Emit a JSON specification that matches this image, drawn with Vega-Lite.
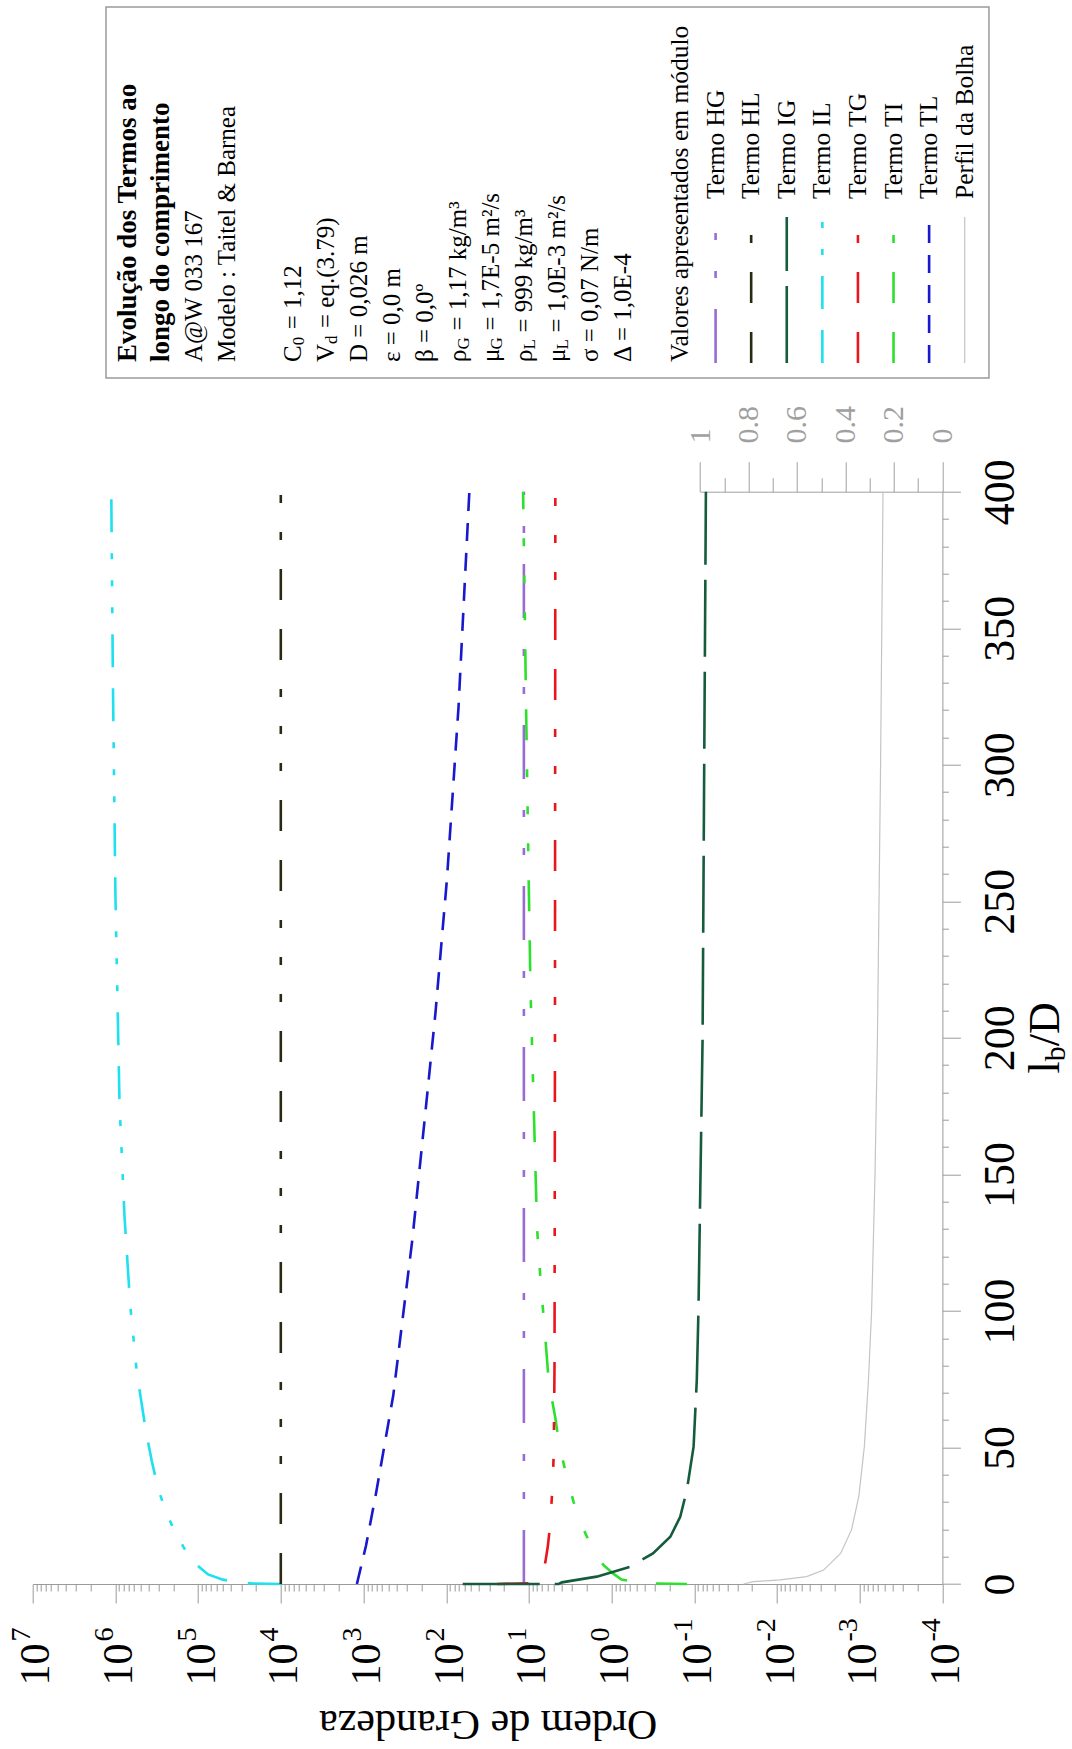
{
"$schema": "https://vega.github.io/schema/vega-lite/v6.json",
"width": 909.7, "height": 1092.3,
"autosize": {"type": "none"},
"padding": {"left": 32.7, "top": 491.7, "right": 129.6, "bottom": 165},
"background": "white",
"config": {"view": {"stroke": null},
 "axis": {"grid": false, "labelFlush": false, "labelOverlap": false, "labelBound": false, "domainColor": "#9a9a9a", "tickColor": "#9a9a9a", "labelFont": "Liberation Serif", "titleFont": "Liberation Serif", "titleFontWeight": "normal", "labelColor": "black", "titleColor": "black"},
 "text": {"font": "Liberation Serif"}},
"datasets": {
 "series": [
  {"s":"IL","k":0,"lb":0,"v":10000},{"s":"IL","k":1,"lb":0.2,"v":22387},{"s":"IL","k":2,"lb":0.6,"v":33113},{"s":"IL","k":3,"lb":1.6,"v":50119},{"s":"IL","k":4,"lb":3.5,"v":75858},{"s":"IL","k":5,"lb":6.6,"v":100000},{"s":"IL","k":6,"lb":11,"v":134896},{"s":"IL","k":7,"lb":18,"v":181970},{"s":"IL","k":8,"lb":25,"v":234423},{"s":"IL","k":9,"lb":34.5,"v":301995},{"s":"IL","k":10,"lb":45,"v":363078},{"s":"IL","k":11,"lb":55.8,"v":426580},{"s":"IL","k":12,"lb":77.2,"v":549541},{"s":"IL","k":13,"lb":101.8,"v":660693},{"s":"IL","k":14,"lb":134.6,"v":776247},{"s":"IL","k":15,"lb":175.7,"v":891251},{"s":"IL","k":16,"lb":252.9,"v":1000000},{"s":"IL","k":17,"lb":330,"v":1071519},{"s":"IL","k":18,"lb":400,"v":1122018},
  {"s":"HL","k":0,"lb":0,"v":10000},{"s":"HL","k":1,"lb":400,"v":10000},
  {"s":"HG","k":0,"lb":0,"v":11.5},{"s":"HG","k":1,"lb":400,"v":11.5},
  {"s":"TL","k":0,"lb":0,"v":1202},{"s":"TL","k":1,"lb":14,"v":933},{"s":"TL","k":2,"lb":33,"v":708},{"s":"TL","k":3,"lb":69,"v":437},{"s":"TL","k":4,"lb":126,"v":257},{"s":"TL","k":5,"lb":176,"v":174},{"s":"TL","k":6,"lb":209,"v":135},{"s":"TL","k":7,"lb":258,"v":98},{"s":"TL","k":8,"lb":321,"v":71},{"s":"TL","k":9,"lb":400,"v":52.5},
  {"s":"TI","k":0,"lb":0,"v":0.123},{"s":"TI","k":1,"lb":0.2,"v":0.355},{"s":"TI","k":2,"lb":0.85,"v":0.525},{"s":"TI","k":3,"lb":1.6,"v":0.759},{"s":"TI","k":4,"lb":3.8,"v":0.955},{"s":"TI","k":5,"lb":7,"v":1.259},{"s":"TI","k":6,"lb":12.4,"v":1.66},{"s":"TI","k":7,"lb":18,"v":2.04},{"s":"TI","k":8,"lb":23.4,"v":2.4},{"s":"TI","k":9,"lb":30,"v":2.88},{"s":"TI","k":10,"lb":41,"v":3.59},{"s":"TI","k":11,"lb":50.3,"v":4.27},{"s":"TI","k":12,"lb":60.8,"v":4.79},{"s":"TI","k":13,"lb":73.9,"v":5.75},{"s":"TI","k":14,"lb":93.6,"v":6.46},{"s":"TI","k":15,"lb":110,"v":7.19},{"s":"TI","k":16,"lb":129.7,"v":7.94},{"s":"TI","k":17,"lb":151,"v":8.32},{"s":"TI","k":18,"lb":183.9,"v":8.91},{"s":"TI","k":19,"lb":216.8,"v":9.55},{"s":"TI","k":20,"lb":252.9,"v":10.0},{"s":"TI","k":21,"lb":323,"v":10.84},{"s":"TI","k":22,"lb":400,"v":11.75},
  {"s":"TG","k":0,"lb":0,"v":24.0},{"s":"TG","k":1,"lb":0.3,"v":10.0},{"s":"TG","k":2,"lb":0.8,"v":8.5},{"s":"TG","k":3,"lb":1.6,"v":7.41},{"s":"TG","k":4,"lb":4,"v":6.76},{"s":"TG","k":5,"lb":8.2,"v":6.31},{"s":"TG","k":6,"lb":14,"v":5.89},{"s":"TG","k":7,"lb":21.3,"v":5.56},{"s":"TG","k":8,"lb":35,"v":5.19},{"s":"TG","k":9,"lb":47.6,"v":5.01},{"s":"TG","k":10,"lb":80,"v":4.9},{"s":"TG","k":11,"lb":200,"v":4.84},{"s":"TG","k":12,"lb":400,"v":4.79},
  {"s":"IG","k":0,"lb":0,"v":63.1},{"s":"IG","k":1,"lb":0,"v":4.37},{"s":"IG","k":2,"lb":0.6,"v":3.98},{"s":"IG","k":3,"lb":1.5,"v":2.63},{"s":"IG","k":4,"lb":2.7,"v":1.514},{"s":"IG","k":5,"lb":6.3,"v":0.603},{"s":"IG","k":6,"lb":8.2,"v":0.468},{"s":"IG","k":7,"lb":11.2,"v":0.316},{"s":"IG","k":8,"lb":17.3,"v":0.195},{"s":"IG","k":9,"lb":24.6,"v":0.148},{"s":"IG","k":10,"lb":34.4,"v":0.123},{"s":"IG","k":11,"lb":50.3,"v":0.102},{"s":"IG","k":12,"lb":74.7,"v":0.0933},{"s":"IG","k":13,"lb":100,"v":0.0891},{"s":"IG","k":14,"lb":200,"v":0.0794},{"s":"IG","k":15,"lb":300,"v":0.0759},{"s":"IG","k":16,"lb":400,"v":0.0724}
 ],
 "profile": [
  {"lb":0,"p":0.82},{"lb":0.85,"p":0.78},{"lb":1.5,"p":0.67},{"lb":2.7,"p":0.56},{"lb":5.1,"p":0.49},{"lb":11.2,"p":0.42},{"lb":19.8,"p":0.375},{"lb":32,"p":0.345},{"lb":50.3,"p":0.322},{"lb":74.7,"p":0.305},{"lb":100,"p":0.292},{"lb":150,"p":0.278},{"lb":200,"p":0.268},{"lb":300,"p":0.255},{"lb":400,"p":0.245}
 ],
 "legA": [
  {"line":0,"k":"t","a":"Evolução dos Termos ao"},
  {"line":1,"k":"t","a":"longo do comprimento"},
  {"line":2,"k":"n","a":"A@W 033 167"},
  {"line":3,"k":"n","a":"Modelo : Taitel & Barnea"},
  {"line":5,"k":"n","a":"C","s":"0","r":"= 1,12"},
  {"line":6,"k":"n","a":"V","s":"d","r":"= eq.(3.79)"},
  {"line":7,"k":"n","a":"D = 0,026 m"},
  {"line":8,"k":"n","a":"ε = 0,0 m"},
  {"line":9,"k":"n","a":"β = 0,0º"},
  {"line":10,"k":"n","a":"ρ","s":"G","r":"= 1,17 kg/m³"},
  {"line":11,"k":"n","a":"μ","s":"G","r":"= 1,7E-5 m²/s"},
  {"line":12,"k":"n","a":"ρ","s":"L","r":"= 999 kg/m³"},
  {"line":13,"k":"n","a":"μ","s":"L","r":"= 1,0E-3 m²/s"},
  {"line":14,"k":"n","a":"σ = 0,07 N/m"},
  {"line":15,"k":"n","a":"Δ = 1,0E-4"}
 ],
 "legB": [
  {"line":0,"a":"Valores apresentados em módulo"},
  {"line":1,"a":"Termo HG","s":"HG"},
  {"line":2,"a":"Termo HL","s":"HL"},
  {"line":3,"a":"Termo IG","s":"IG"},
  {"line":4,"a":"Termo IL","s":"IL"},
  {"line":5,"a":"Termo TG","s":"TG"},
  {"line":6,"a":"Termo TI","s":"TI"},
  {"line":7,"a":"Termo TL","s":"TL"},
  {"line":8,"a":"Perfil da Bolha","s":"Perfil"}
 ]
},
"resolve": {"scale": {"x": "independent", "y": "independent"}},
"layer": [
 {"data": {"name": "profile"},
  "mark": {"type": "line", "color": "#c4c4c4", "strokeWidth": 1.2},
  "encoding": {
   "x": {"field": "p", "type": "quantitative", "scale": {"domain": [0, 1], "range": [909.7, 667.3], "zero": false, "nice": false},
    "axis": {"orient": "top", "values": [0, 0.2, 0.4, 0.6, 0.8, 1], "format": "~g", "tickSize": 30, "labelAngle": 270, "labelAlign": "left", "labelBaseline": "middle", "labelPadding": 18.7, "labelFontSize": 30, "labelColor": "#a0a0a0", "domainColor": "#a0a0a0", "tickColor": "#a0a0a0", "title": null}},
   "y": {"field": "lb", "type": "quantitative", "scale": {"domain": [0, 400], "nice": false}, "axis": null},
   "order": {"field": "lb", "type": "quantitative"}
  }},
 {"data": {"name": "profile"},
  "mark": {"type": "line", "opacity": 0},
  "encoding": {
   "x": {"field": "p", "type": "quantitative", "scale": {"domain": [0, 1], "range": [909.7, 667.3], "zero": false, "nice": false},
    "axis": {"orient": "top", "values": [0.1, 0.3, 0.5, 0.7, 0.9], "tickSize": 14, "labels": false, "domain": false, "tickColor": "#a0a0a0", "title": null}},
   "y": {"field": "lb", "type": "quantitative", "scale": {"domain": [0, 400], "nice": false}, "axis": null}
  }},
 {"data": {"name": "series"},
  "mark": {"type": "line", "strokeWidth": 2.6},
  "encoding": {
   "x": {"field": "v", "type": "quantitative", "scale": {"type": "log", "domain": [0.0001, 10000000], "reverse": true, "nice": false},
    "axis": {"orient": "bottom", "values": [10000000, 1000000, 100000, 10000, 1000, 100, 10, 1, 0.1, 0.01, 0.001, 0.0001],
     "labelExpr": "'10'",
     "tickSize": 19, "labelAngle": 270, "labelAlign": "right", "labelBaseline": "middle", "labelPadding": 40, "labelOffset": 3, "labelFontSize": 42,
     "title": "Ordem de Grandeza", "titleFontSize": 42, "titleAngle": 180, "titleX": 455, "titleY": 139, "titleAlign": "center", "titleBaseline": "middle"}},
   "y": {"field": "lb", "type": "quantitative", "scale": {"domain": [0, 400], "nice": false},
    "axis": {"orient": "right", "values": [0, 50, 100, 150, 200, 250, 300, 350, 400], "tickSize": 18, "labelAngle": 270, "labelAlign": "center", "labelBaseline": "middle", "labelPadding": 39.6, "labelFontSize": 44, "title": null}},
   "color": {"field": "s", "type": "nominal", "legend": null,
    "scale": {"domain": ["HG", "HL", "IG", "IL", "TG", "TI", "TL", "Perfil"], "range": ["#9a6bd4", "#2a2a12", "#145c3c", "#1fe0ee", "#e8161c", "#2ee02e", "#1818cc", "#c4c4c4"]}},
   "strokeDash": {"field": "s", "type": "nominal", "legend": null,
    "scale": {"domain": ["HG", "HL", "IG", "IL", "TG", "TI", "TL", "Perfil"], "range": [[54, 31, 7, 31, 7, 31], [31, 29, 31, 29, 8, 29, 8, 29, 8, 29], [77, 15], [33, 21, 33, 21, 6, 21, 6, 21, 6, 21], [31, 29, 31, 29, 8, 29, 8, 29, 8, 29], [31, 29, 31, 29, 8, 29, 8, 29, 8, 29], [18, 12], [1, 0]]}},
   "order": {"field": "k", "type": "quantitative"}
  }},
 {"data": {"name": "series"},
  "mark": {"type": "line", "opacity": 0},
  "encoding": {
   "x": {"field": "v", "type": "quantitative", "scale": {"type": "log", "domain": [0.0001, 10000000], "reverse": true, "nice": false},
    "axis": {"orient": "bottom", "values": [10000000, 1000000, 100000, 10000, 1000, 100, 10, 1, 0.1, 0.01, 0.001, 0.0001],
     "labelExpr": "'' + round(log(datum.value) / LN10)",
     "ticks": false, "tickSize": 0, "domain": false, "labelAngle": 270, "labelAlign": "left", "labelBaseline": "middle", "labelPadding": 57, "labelOffset": -11, "labelFontSize": 28, "title": null}},
   "y": {"field": "lb", "type": "quantitative", "scale": {"domain": [0, 400], "nice": false}, "axis": null},
   "detail": {"field": "s"}
  }},
 {"data": {"name": "series"},
  "mark": {"type": "line", "opacity": 0},
  "encoding": {
   "x": {"field": "v", "type": "quantitative", "scale": {"type": "log", "domain": [0.0001, 10000000], "reverse": true, "nice": false},
    "axis": {"orient": "bottom", "values": [0.0002,0.0003,0.0004,0.0005,0.0006,0.0007,0.0008,0.0009,0.002,0.003,0.004,0.005,0.006,0.007,0.008,0.009,0.02,0.03,0.04,0.05,0.06,0.07,0.08,0.09,0.2,0.3,0.4,0.5,0.6,0.7,0.8,0.9,2,3,4,5,6,7,8,9,20,30,40,50,60,70,80,90,200,300,400,500,600,700,800,900,2000,3000,4000,5000,6000,7000,8000,9000,20000,30000,40000,50000,60000,70000,80000,90000,200000,300000,400000,500000,600000,700000,800000,900000,2000000,3000000,4000000,5000000,6000000,7000000,8000000,9000000],
     "tickSize": 7, "labels": false, "domain": false, "title": null}},
   "y": {"field": "lb", "type": "quantitative", "scale": {"domain": [0, 400], "nice": false},
    "axis": {"orient": "right", "values": [10,20,30,40,60,70,80,90,110,120,130,140,160,170,180,190,210,220,230,240,260,270,280,290,310,320,330,340,360,370,380,390], "tickSize": 6, "labels": false, "domain": false, "title": null}},
   "detail": {"field": "s"}
  }},
 {"data": {"name": "series"},
  "mark": {"type": "line", "opacity": 0},
  "encoding": {
   "x": {"field": "v", "type": "quantitative", "scale": {"type": "log", "domain": [0.0001, 10000000], "nice": false}, "axis": null},
   "y": {"field": "lb", "type": "quantitative", "scale": {"domain": [0, 400], "nice": false},
    "axis": {"orient": "right", "labels": false, "ticks": false, "domain": false, "title": "l", "titleAngle": 270, "titleAlign": "left", "titleBaseline": "alphabetic", "titleFontSize": 44, "titleX": 116, "titleY": 581.3}},
   "detail": {"field": "s"}
  }},
 {"data": {"name": "series"},
  "mark": {"type": "line", "opacity": 0},
  "encoding": {
   "x": {"field": "v", "type": "quantitative", "scale": {"type": "log", "domain": [0.0001, 10000000], "nice": false}, "axis": null},
   "y": {"field": "lb", "type": "quantitative", "scale": {"domain": [0, 400], "nice": false},
    "axis": {"orient": "right", "labels": false, "ticks": false, "domain": false, "title": "b", "titleAngle": 270, "titleAlign": "left", "titleBaseline": "alphabetic", "titleFontSize": 30, "titleX": 122.5, "titleY": 569.1}},
   "detail": {"field": "s"}
  }},
 {"data": {"name": "series"},
  "mark": {"type": "line", "opacity": 0},
  "encoding": {
   "x": {"field": "v", "type": "quantitative", "scale": {"type": "log", "domain": [0.0001, 10000000], "nice": false}, "axis": null},
   "y": {"field": "lb", "type": "quantitative", "scale": {"domain": [0, 400], "nice": false},
    "axis": {"orient": "right", "labels": false, "ticks": false, "domain": false, "title": "/D", "titleAngle": 270, "titleAlign": "left", "titleBaseline": "alphabetic", "titleFontSize": 44, "titleX": 116, "titleY": 554.1}},
   "detail": {"field": "s"}
  }},
 {"data": {"values": [{}]},
  "mark": {"type": "rect", "fillOpacity": 0, "stroke": "#9a9a9a", "strokeWidth": 1.5},
  "encoding": {
   "x": {"datum": -0.667, "type": "quantitative", "scale": {"domain": [0, 15], "range": [95.3, 590.3], "zero": false, "nice": false}, "axis": null},
   "x2": {"datum": 26.09},
   "y": {"datum": 0, "type": "quantitative", "scale": {"domain": [0, 1], "range": [-113.7, -484.7], "zero": false, "nice": false}, "axis": null},
   "y2": {"datum": 1}
  }},
 {"data": {"name": "legA"},
  "transform": [{"filter": "datum.k == 't'"}],
  "mark": {"type": "text", "angle": 270, "align": "left", "baseline": "middle", "fontSize": 27, "fontWeight": "bold", "color": "black"},
  "encoding": {
   "x": {"field": "line", "type": "quantitative", "scale": {"domain": [0, 15], "range": [95.3, 590.3], "zero": false, "nice": false}, "axis": null},
   "y": {"datum": 0.0431, "type": "quantitative", "scale": {"domain": [0, 1], "range": [-113.7, -484.7], "zero": false, "nice": false}, "axis": null},
   "text": {"field": "a"}
  }},
 {"data": {"name": "legA"},
  "transform": [{"filter": "datum.k == 'n'"}],
  "mark": {"type": "text", "angle": 270, "align": "left", "baseline": "middle", "fontSize": 25, "color": "black"},
  "encoding": {
   "x": {"field": "line", "type": "quantitative", "scale": {"domain": [0, 15], "range": [95.3, 590.3], "zero": false, "nice": false}, "axis": null},
   "y": {"datum": 0.0431, "type": "quantitative", "scale": {"domain": [0, 1], "range": [-113.7, -484.7], "zero": false, "nice": false}, "axis": null},
   "text": {"field": "a"}
  }},
 {"data": {"name": "legA"},
  "transform": [{"filter": "isValid(datum.s)"}],
  "mark": {"type": "text", "angle": 270, "align": "left", "baseline": "middle", "fontSize": 17, "color": "black", "dy": 6,
   "dx": {"expr": "datum.a == 'C' ? 16.7 : datum.a == 'V' ? 18 : 12.5"}},
  "encoding": {
   "x": {"field": "line", "type": "quantitative", "scale": {"domain": [0, 15], "range": [95.3, 590.3], "zero": false, "nice": false}, "axis": null},
   "y": {"datum": 0.0431, "type": "quantitative", "scale": {"domain": [0, 1], "range": [-113.7, -484.7], "zero": false, "nice": false}, "axis": null},
   "text": {"field": "s"}
  }},
 {"data": {"name": "legA"},
  "transform": [{"filter": "isValid(datum.r)"}],
  "mark": {"type": "text", "angle": 270, "align": "left", "baseline": "middle", "fontSize": 25, "color": "black",
   "dx": {"expr": "(datum.a == 'C' ? 16.7 : datum.a == 'V' ? 18 : 12.5) + (datum.s == 'G' ? 13 : datum.s == 'L' ? 11 : 10) + 6"}},
  "encoding": {
   "x": {"field": "line", "type": "quantitative", "scale": {"domain": [0, 15], "range": [95.3, 590.3], "zero": false, "nice": false}, "axis": null},
   "y": {"datum": 0.0431, "type": "quantitative", "scale": {"domain": [0, 1], "range": [-113.7, -484.7], "zero": false, "nice": false}, "axis": null},
   "text": {"field": "r"}
  }},
 {"data": {"name": "legB"},
  "transform": [{"filter": "datum.line == 0"}],
  "mark": {"type": "text", "angle": 270, "align": "left", "baseline": "middle", "fontSize": 25.5, "color": "black"},
  "encoding": {
   "x": {"field": "line", "type": "quantitative", "scale": {"domain": [0, 8], "range": [647.3, 932.0], "zero": false, "nice": false}, "axis": null},
   "y": {"datum": 0.0431, "type": "quantitative", "scale": {"domain": [0, 1], "range": [-113.7, -484.7], "zero": false, "nice": false}, "axis": null},
   "text": {"field": "a"}
  }},
 {"data": {"name": "legB"},
  "transform": [{"filter": "datum.line > 0"}],
  "mark": {"type": "text", "angle": 270, "align": "left", "baseline": "middle", "fontSize": 25.5, "color": "black"},
  "encoding": {
   "x": {"field": "line", "type": "quantitative", "scale": {"domain": [0, 8], "range": [647.3, 932.0], "zero": false, "nice": false}, "axis": null},
   "y": {"datum": 0.4825, "type": "quantitative", "scale": {"domain": [0, 1], "range": [-113.7, -484.7], "zero": false, "nice": false}, "axis": null},
   "text": {"field": "a"}
  }},
 {"data": {"name": "legB"},
  "transform": [{"filter": "datum.line > 0"}],
  "mark": {"type": "rule"},
  "encoding": {
   "x": {"field": "line", "type": "quantitative", "scale": {"domain": [0, 8], "range": [647.3, 932.0], "zero": false, "nice": false}, "axis": null},
   "y": {"datum": 0.0404, "type": "quantitative", "scale": {"domain": [0, 1], "range": [-113.7, -484.7], "zero": false, "nice": false}, "axis": null},
   "y2": {"datum": 0.434},
   "color": {"field": "s", "type": "nominal", "legend": null,
    "scale": {"domain": ["HG", "HL", "IG", "IL", "TG", "TI", "TL", "Perfil"], "range": ["#9a6bd4", "#2a2a12", "#145c3c", "#1fe0ee", "#e8161c", "#2ee02e", "#1818cc", "#c4c4c4"]}},
   "strokeDash": {"field": "s", "type": "nominal", "legend": null,
    "scale": {"domain": ["HG", "HL", "IG", "IL", "TG", "TI", "TL", "Perfil"], "range": [[54, 31, 7, 31, 7, 31], [31, 29, 31, 29, 8, 29, 8, 29, 8, 29], [77, 15], [33, 21, 33, 21, 6, 21, 6, 21, 6, 21], [31, 29, 31, 29, 8, 29, 8, 29, 8, 29], [31, 29, 31, 29, 8, 29, 8, 29, 8, 29], [18, 12], [1, 0]]}},
   "strokeWidth": {"condition": {"test": "datum.s == 'Perfil'", "value": 1.2}, "value": 2.6}
  }}
]
}
